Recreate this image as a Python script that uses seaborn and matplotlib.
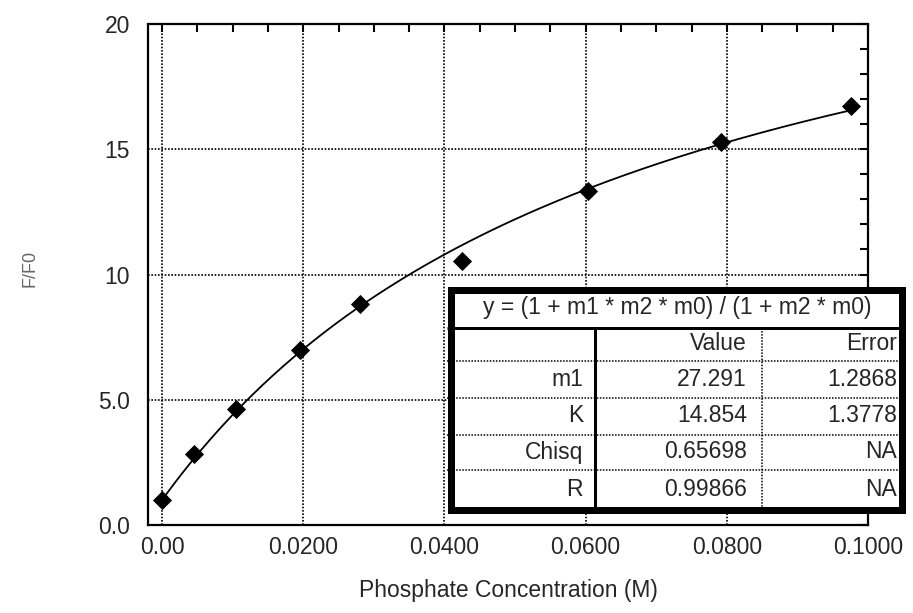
import numpy as np
import pandas as pd
import matplotlib
matplotlib.use("Agg")
import matplotlib.pyplot as plt
from matplotlib.ticker import MultipleLocator, FixedLocator, FixedFormatter
import seaborn as sns

# ---- data ----
conc = [0.0, 0.0045, 0.0104, 0.0195, 0.0280, 0.0425, 0.0603, 0.0792, 0.0976]
ff0 = [1.0, 2.82, 4.65, 6.98, 8.84, 10.54, 13.32, 15.28, 16.72]

fit_m1 = 27.291
fit_K = 14.854

x_ticks = [0.0, 0.02, 0.04, 0.06, 0.08, 0.10]
x_tick_labels = ["0.00", "0.0200", "0.0400", "0.0600", "0.0800", "0.1000"]
y_ticks = [0, 5, 10, 15, 20]
y_tick_labels = ["0.0", "5.0", "10", "15", "20"]

table_title = "y = (1 + m1 * m2 * m0) / (1 + m2 * m0)"
table_header = ["", "Value", "Error"]
table_rows = ["m1", "K", "Chisq", "R"]
table_values = ["27.291", "14.854", "0.65698", "0.99866"]
table_errors = ["1.2868", "1.3778", "NA", "NA"]

# ---- style ----
sns.set_style("white")
plt.rcParams["font.family"] = ["Liberation Sans", "DejaVu Sans"]

W, H = 913, 613
fig = plt.figure(figsize=(W / 100, H / 100), dpi=100)
fig.patch.set_facecolor("white")

def fx(px):
    return px / W

def fy(py):
    return 1 - py / H

ax_l, ax_r, ax_t, ax_b = 148, 868, 24, 525
ax = fig.add_axes([fx(ax_l), fy(ax_b), fx(ax_r - ax_l), fy(ax_t) - fy(ax_b)])

df = pd.DataFrame({"conc": conc, "ff0": ff0})
x_fit = np.linspace(0, conc[-1], 200)
y_fit = (1 + fit_m1 * fit_K * x_fit) / (1 + fit_K * x_fit)
fit_df = pd.DataFrame({"x": x_fit, "y": y_fit})

sns.lineplot(data=fit_df, x="x", y="y", ax=ax, color="black", linewidth=1.3, zorder=3)
sns.scatterplot(data=df, x="conc", y="ff0", ax=ax, marker="D", s=95,
                color="black", edgecolor="black", linewidth=0, zorder=4)

ax.set_xlim(-0.002, 0.1)
ax.set_ylim(0, 20)

ax.xaxis.set_major_locator(FixedLocator(x_ticks))
ax.xaxis.set_major_formatter(FixedFormatter(x_tick_labels))
ax.yaxis.set_major_locator(FixedLocator(y_ticks))
ax.yaxis.set_major_formatter(FixedFormatter(y_tick_labels))
ax.xaxis.set_minor_locator(MultipleLocator(0.005))
ax.yaxis.set_minor_locator(MultipleLocator(1))

ax.grid(True, which="major", color="black", linestyle=(0, (1, 1)), linewidth=1.2, zorder=1)
ax.set_axisbelow(True)

for sp in ax.spines.values():
    sp.set_linestyle((0, (1, 1)))
    sp.set_linewidth(1.6)
    sp.set_color("black")
    sp.set_visible(True)

ax.tick_params(which="both", direction="in", top=True, right=True,
               color="black", width=1.5)
ax.tick_params(which="major", length=6, labelsize=16.5)
ax.tick_params(which="minor", length=6)
ax.tick_params(axis="x", which="major", pad=8)
ax.tick_params(axis="y", which="major", pad=13)

ax.set_xlabel("Phosphate Concentration (M)", fontsize=16.5, labelpad=14)
ax.set_ylabel("")
fig.text(fx(30), fy(268), "F/F0", rotation=90, ha="center", va="center",
         fontsize=13, color="#666666")

# ---- parameter table ----
bx0, bx1, by0, by1 = 447, 905, 287, 513
tax = fig.add_axes([fx(bx0), fy(by1), fx(bx1 - bx0), fy(by0) - fy(by1)], zorder=5)
tax.set_xlim(bx0, bx1)
tax.set_ylim(by1, by0)
tax.axis("off")
tax.add_patch(plt.Rectangle((bx0, by0), bx1 - bx0, by1 - by0, facecolor="white",
                            edgecolor="none", zorder=0))
bw = 7
tax.add_patch(plt.Rectangle((bx0 + bw / 2, by0 + bw / 2), bx1 - bx0 - bw, by1 - by0 - bw,
                            facecolor="none", edgecolor="black",
                            linewidth=bw * 0.72, zorder=3, clip_on=False))
# thick line under title row
tax.plot([bx0, bx1], [328, 328], color="black", linewidth=3 * 0.72, solid_capstyle="butt", zorder=2)
# thick vertical after label column
tax.plot([594.5, 594.5], [328, by1], color="black", linewidth=3 * 0.72, solid_capstyle="butt", zorder=2)
# dotted vertical between value and error
tax.plot([762, 762], [328, by1], color="black", linewidth=1.1, linestyle=(0, (1, 1)), zorder=2)
# dotted row separators
for yy in [361, 398, 435, 470]:
    tax.plot([bx0, bx1], [yy, yy], color="black", linewidth=1.1, linestyle=(0, (1, 1)), zorder=2)

fs = 16.5
tax.text(677, 308, table_title, ha="center", va="center", fontsize=fs, zorder=4)
col_right = [583, 747, 897]
row_centers = [344, 380, 416, 452, 489]
for c, txt in enumerate(table_header):
    tax.text(col_right[c], row_centers[0], txt, ha="right", va="center", fontsize=fs, zorder=4)
for r in range(len(table_rows)):
    yy = row_centers[r + 1]
    tax.text(col_right[0], yy, table_rows[r], ha="right", va="center", fontsize=fs, zorder=4)
    tax.text(col_right[1], yy, table_values[r], ha="right", va="center", fontsize=fs, zorder=4)
    tax.text(col_right[2], yy, table_errors[r], ha="right", va="center", fontsize=fs, zorder=4)

fig.savefig("out.png", dpi=100, facecolor="white")
